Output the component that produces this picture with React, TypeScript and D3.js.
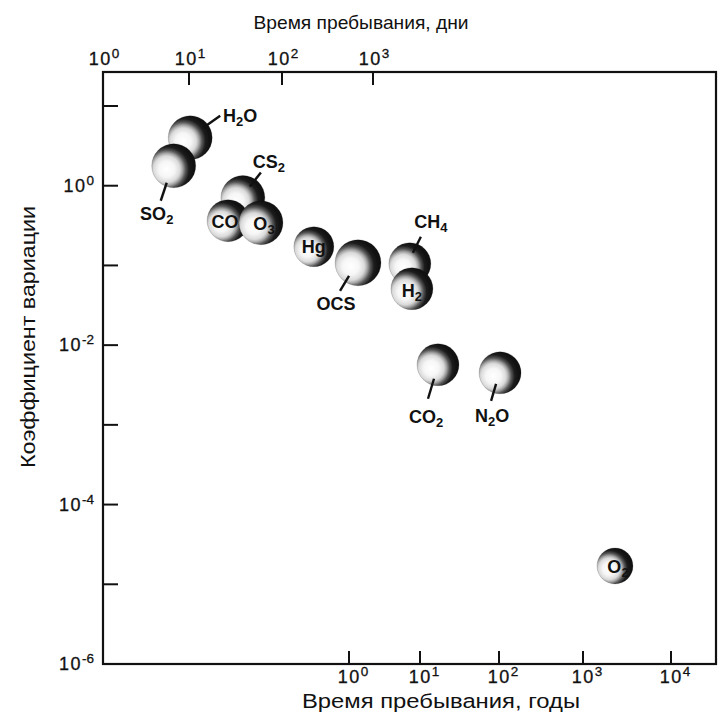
import { useEffect, useRef } from 'react';
import * as d3 from 'd3';

// gases, residence time (years) and coefficient of variation
const gases = ['H2O', 'SO2', 'CS2', 'CO', 'O3', 'Hg', 'OCS', 'CH4', 'H2', 'CO2', 'N2O', 'O2'];
const residenceYears = [0.0058, 0.0034, 0.032, 0.0198, 0.0576, 0.32, 1.34, 7.2, 7.7, 16.9, 103, 2310];
const variation = [4.0, 1.78, 0.71, 0.364, 0.343, 0.172, 0.108, 0.105, 0.051, 0.00568, 0.0045, 1.7e-5];

// axis ticks (powers of ten)
const yTickExps = [1, 0, -1, -2, -3, -4, -5];
const yLabelExps = [0, -2, -4, -6];
const dayExps = [0, 1, 2, 3];
const yearExps = [0, 1, 2, 3, 4];

// label placement relative to each ball (style only)
const layout: Record<string, { r: number; tx: number; ty: number; line?: number[] }> = {
  H2O: { r: 22, tx: 50, ty: -16, line: [13, -10, 30, -22] },
  SO2: { r: 22, tx: -17, ty: 54, line: [-7, 17, -13, 35] },
  CS2: { r: 22, tx: 26, ty: -30, line: [7, -11, 18, -25] },
  CO: { r: 21, tx: -3, ty: 7 },
  O3: { r: 22, tx: 3, ty: 7 },
  Hg: { r: 20, tx: 0, ty: 6 },
  OCS: { r: 23, tx: -22, ty: 47, line: [-9, 13, -18, 28] },
  CH4: { r: 21, tx: 21, ty: -36, line: [3, -11, 11, -27] },
  H2: { r: 21, tx: 0, ty: 8 },
  CO2: { r: 21, tx: -12, ty: 58, line: [-4, 14, -10, 34] },
  N2O: { r: 21, tx: -8, ty: 49, line: [-4, 11, -9, 28] },
  O2: { r: 18, tx: 3, ty: 7 },
};

const FONT = '"Liberation Sans", Arial, Helvetica, sans-serif';

function Chart() {
  const svgRef = useRef<SVGSVGElement>(null);

  useEffect(() => {
    if (!svgRef.current) return;
    const svg = d3.select(svgRef.current);
    svg.selectAll('*').remove();

    const left = 103, right = 716, top = 72, bottom = 664;

    const y = d3.scaleLog().domain([1e-6, 10]).range([664, 106]);
    // the printed axes are hand drawn: decades are not evenly spaced
    const xYears = d3.scaleLog().domain([1, 10, 100, 1000, 10000]).range([349, 420, 499, 583, 671]);
    const xDays = d3.scaleLog().domain([1, 10, 100, 1000]).range([103, 189, 282, 373]);

    const defs = svg.append('defs');
    const grad = defs.append('radialGradient').attr('id', 'ball')
      .attr('cx', '0.34').attr('cy', '0.58').attr('r', '0.6');
    [[0, '#ffffff'], [0.3, '#f6f6f6'], [0.5, '#dadada'], [0.6, '#a8a8a8'], [0.72, '#555555'], [0.85, '#1c1c1c'], [1, '#111111']]
      .forEach(([o, c]) => grad.append('stop').attr('offset', o as number).attr('stop-color', c as string));

    // frame
    svg.append('rect').attr('x', left).attr('y', top).attr('width', right - left).attr('height', bottom - top)
      .attr('fill', 'none').attr('stroke', '#111').attr('stroke-width', 2.2);

    // y ticks
    svg.append('g').selectAll('line').data(yTickExps).enter().append('line')
      .attr('x1', left).attr('x2', left + 15)
      .attr('y1', (d: number) => y(Math.pow(10, d))).attr('y2', (d: number) => y(Math.pow(10, d)))
      .attr('stroke', '#111').attr('stroke-width', 2);

    const pow = (sel: any) => {
      sel.append('tspan').text('10');
      sel.append('tspan').attr('dy', -7).attr('font-size', 13.5).attr('letter-spacing', 0).text((d: number) => String(d));
    };
    const tickText = (sel: any) => sel.attr('font-family', FONT).attr('font-size', 18)
      .attr('letter-spacing', 1.5).attr('fill', '#111').attr('stroke', '#111').attr('stroke-width', 0.3);

    const yl = svg.append('g').selectAll('text').data(yLabelExps).enter().append('text')
      .attr('x', 94).attr('y', (d: number) => y(Math.pow(10, d)) + 6).attr('text-anchor', 'end');
    tickText(yl);
    pow(yl);

    // top axis, days
    svg.append('g').selectAll('line').data(dayExps.slice(1)).enter().append('line')
      .attr('x1', (d: number) => xDays(Math.pow(10, d))).attr('x2', (d: number) => xDays(Math.pow(10, d)))
      .attr('y1', top).attr('y2', top + 13).attr('stroke', '#111').attr('stroke-width', 2);
    const tl = svg.append('g').selectAll('text').data(dayExps).enter().append('text')
      .attr('x', (d: number) => xDays(Math.pow(10, d)) + 1).attr('y', 65).attr('text-anchor', 'middle');
    tickText(tl);
    pow(tl);

    // bottom axis, years
    svg.append('g').selectAll('line').data(yearExps).enter().append('line')
      .attr('x1', (d: number) => xYears(Math.pow(10, d))).attr('x2', (d: number) => xYears(Math.pow(10, d)))
      .attr('y1', bottom).attr('y2', bottom - 13).attr('stroke', '#111').attr('stroke-width', 2);
    const bl = svg.append('g').selectAll('text').data(yearExps).enter().append('text')
      .attr('x', (d: number) => xYears(Math.pow(10, d)) + 4).attr('y', 683).attr('text-anchor', 'middle');
    tickText(bl);
    pow(bl);

    // titles
    svg.append('text').attr('x', 361).attr('y', 29).attr('text-anchor', 'middle')
      .attr('font-family', FONT).attr('font-size', 18.5).attr('textLength', 215).attr('lengthAdjust', 'spacingAndGlyphs')
      .attr('fill', '#111').text('Время пребывания, дни');
    svg.append('text').attr('x', 441).attr('y', 708).attr('text-anchor', 'middle')
      .attr('font-family', FONT).attr('font-size', 20.5).attr('textLength', 278).attr('lengthAdjust', 'spacingAndGlyphs')
      .attr('fill', '#111').text('Время пребывания, годы');
    svg.append('text').attr('transform', 'translate(35,337) rotate(-90)').attr('text-anchor', 'middle')
      .attr('font-family', FONT).attr('font-size', 20).attr('textLength', 262).attr('lengthAdjust', 'spacingAndGlyphs')
      .attr('fill', '#111').text('Коэффициент вариации');

    const pts = gases.map((g, i) => ({ g, cx: xYears(residenceYears[i]), cy: y(variation[i]), ...layout[g] }));

    // balls
    svg.append('g').selectAll('circle').data(pts).enter().append('circle')
      .attr('cx', (d: any) => d.cx).attr('cy', (d: any) => d.cy).attr('r', (d: any) => d.r)
      .attr('fill', 'url(#ball)').attr('stroke', 'rgba(0,0,0,0.15)').attr('stroke-width', 1);

    // leader lines
    svg.append('g').selectAll('line').data(pts.filter((d: any) => d.line)).enter().append('line')
      .attr('x1', (d: any) => d.cx + d.line[0]).attr('y1', (d: any) => d.cy + d.line[1])
      .attr('x2', (d: any) => d.cx + d.line[2]).attr('y2', (d: any) => d.cy + d.line[3])
      .attr('stroke', '#111').attr('stroke-width', 2.4);

    // labels, digits as subscripts
    const lab = svg.append('g').selectAll('text').data(pts).enter().append('text')
      .attr('x', (d: any) => d.cx + d.tx).attr('y', (d: any) => d.cy + d.ty)
      .attr('text-anchor', 'middle').attr('font-family', FONT).attr('font-weight', 'bold')
      .attr('font-size', 18).attr('fill', '#111');
    lab.each(function (this: SVGTextElement, d: any) {
      const t = d3.select(this);
      let sub = false;
      for (const ch of d.g) {
        const isDigit = /\d/.test(ch);
        const sp = t.append('tspan').text(ch);
        if (isDigit && !sub) { sp.attr('dy', 4).attr('font-size', 13); sub = true; }
        else if (isDigit) sp.attr('font-size', 13);
        else if (sub) { sp.attr('dy', -4); sub = false; }
      }
    });
  }, []);

  return <svg ref={svgRef} width={719} height={725} viewBox="0 0 719 725"
    style={{ position: 'absolute', left: 0, top: 0, background: '#fff' }} />;
}

export default function App() {
  return <Chart />;
}
